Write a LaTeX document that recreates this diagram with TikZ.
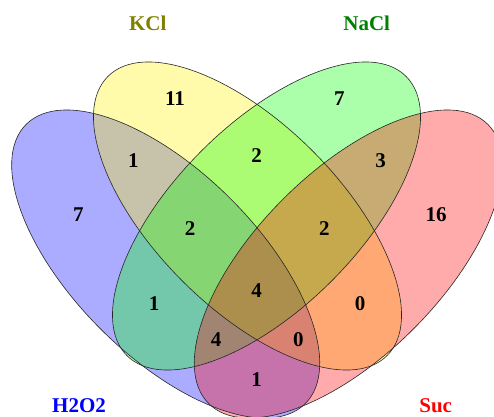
\documentclass[tikz,border=0pt]{standalone}
\usepackage{fontspec}
\setmainfont{Liberation Serif}
\definecolor{kclcol}{RGB}{128,128,0}
\definecolor{naclcol}{RGB}{0,128,0}
\begin{document}
\begin{tikzpicture}[x=1pt,y=1pt,
  setfill/.style={fill=#1, fill opacity=0.33, draw=none},
  setline/.style={draw=black!85, line width=0.6pt, fill=none},
  num/.style={font=\fontsize{21}{24}\selectfont\bfseries, text=black, inner sep=0pt, anchor=center},
  lab/.style={font=\fontsize{21}{24}\selectfont\bfseries, text=#1, inner sep=0pt, anchor=center}]
\useasboundingbox (0,0) rectangle (494,416);
\begin{scope}
\clip (0,0) rectangle (494,416);
% fills
\fill[setfill=blue,   rotate around={-45:(165.7,152)}] (165.7,152) ellipse [x radius=197.4, y radius=92];
\fill[setfill=yellow, rotate around={-45:(247.5,200)}] (247.5,200) ellipse [x radius=197.4, y radius=92];
\fill[setfill=green,  rotate around={45:(266.5,200)}]  (266.5,200) ellipse [x radius=197.4, y radius=92];
\fill[setfill=red,    rotate around={45:(348.3,152)}]  (348.3,152) ellipse [x radius=197.4, y radius=92];
% outlines
\draw[setline, rotate around={-45:(165.7,152)}] (165.7,152) ellipse [x radius=197.4, y radius=92];
\draw[setline, rotate around={-45:(247.5,200)}] (247.5,200) ellipse [x radius=197.4, y radius=92];
\draw[setline, rotate around={45:(266.5,200)}]  (266.5,200) ellipse [x radius=197.4, y radius=92];
\draw[setline, rotate around={45:(348.3,152)}]  (348.3,152) ellipse [x radius=197.4, y radius=92];
\end{scope}
% labels
\node[lab=kclcol] (kcl) at (147.7,392.7) {KCl};
\node[lab=naclcol] (nacl) at (366.7,392.7) {NaCl};
\node[lab=blue] (h2o2) at (79,10.2) {H2O2};
\node[lab=red] (suc) at (435.7,10.2) {Suc};
% counts
\node[num] (n1) at (175,317.7) {11};
\node[num] (n2) at (339.3,317.7) {7};
\node[num] (n3) at (133.3,255) {1};
\node[num] (n4) at (256.7,260) {2};
\node[num] (n5) at (380.7,255) {3};
\node[num] (n6) at (78.3,201) {7};
\node[num] (n7) at (436,201) {16};
\node[num] (n8) at (190,187.7) {2};
\node[num] (n9) at (324.3,187.7) {2};
\node[num] (n10) at (256.7,125) {4};
\node[num] (n11) at (154,112) {1};
\node[num] (n12) at (360,112) {0};
\node[num] (n13) at (216,76) {4};
\node[num] (n14) at (298.3,76) {0};
\node[num] (n15) at (256.7,36.7) {1};
\end{tikzpicture}
\end{document}
